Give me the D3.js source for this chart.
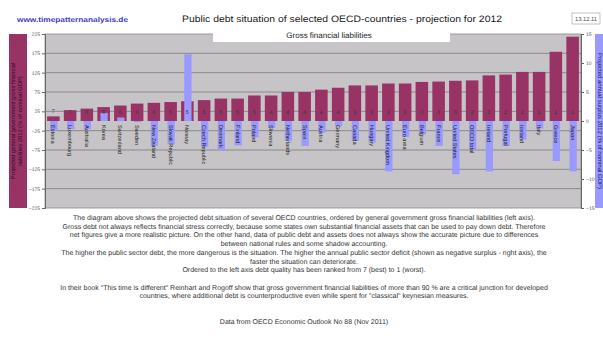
<!DOCTYPE html>
<html><head><meta charset="utf-8">
<script src="https://cdn.jsdelivr.net/npm/d3@7"></script>
<style>
html,body{margin:0;padding:0;background:#fff;}
svg{display:block;}
svg text{font-family:"Liberation Sans",Arial,sans-serif;text-rendering:geometricPrecision;}
</style></head>
<body><svg id="c" width="603" height="344"></svg>
<script>
const countries = ["Estonia","Luxembourg","Australia","Korea","Switzerland","Sweden","New Zealand","Slovak Republic","Norway","Czech Republic","Denmark","Finland","Poland","Slovenia","Netherlands","Spain","Austria","Germany","Canada","Hungary","United Kingdom","Euro area","Belgium","France","United States","OECD total","Ireland","Portugal","Iceland","Italy","Greece","Japan"];
const debt = [12,28,32,36,40,45,47,49,51,54,58,58,66,66,75,75,81,86,92,92,97,97,101,102,104,105,118,120,127,127,179,218];
const surplus = [-1.7,-1.4,-1.4,1.4,0.6,-0.2,-4.3,-4.0,11.5,-4.5,-5.0,-4.2,-2.8,-1.2,-3.4,-4.3,-2.0,-0.9,-3.4,-3.7,-8.7,-2.8,-2.3,-4.3,-9.2,-5.0,-8.7,-4.3,-3.2,-1.3,-6.9,-8.7];
const ranks = [7,7,6,6,6,6,6,5,5,5,5,5,5,4,4,4,4,4,3,3,3,3,3,3,3,2,2,2,2,1,1,1];
const leftTicks = [225,175,125,75,25,-25,-75,-125,-175,-225];
const rightTicks = [15,10,5,0,-5,-10,-15];
const titleText = "Public debt situation of selected OECD-countries - projection for 2012";
const subtitleText = "Gross financial liabilities";
const urlText = "www.timepatternanalysis.de";
const dateText = "13.12.11";
const leftTitle = ["Projected general government gross financial","liabilities 2012 (% of nominal GDP)"];
const rightTitle = "Projected annual surplus 2012 (% of nominal GDP)";
const bodyLines = [
 "The diagram above shows the projected debt situation of several OECD countries, ordered by general government gross financial liabilities (left axis).",
 "Gross debt not always reflects financial stress correctly, because some states own substantial financial assets that can be used to pay down debt. Therefore",
 "net figures give a more realistic picture. On the other hand, data of public debt and assets does not always show the accurate picture due to differences",
 "between national rules and some shadow accounting.",
 "The higher the public sector debt, the more dangerous is the situation. The higher the annual public sector deficit (shown as negative surplus - right axis), the",
 "faster the situation can deteriorate.",
 "Ordered to the left axis debt quality has been ranked from 7 (best) to 1 (worst).",
 "",
 "In their book \"This time is different\" Reinhart and Rogoff show that gross government financial liabilities of more than 90 % are a critical junction for developed",
 "countries, where additional debt is counterproductive even while spent for \"classical\" keynesian measures.",
 "",
 "",
 "Data from OECD Economic Outlook No 88 (Nov 2011)"
];

const FF = "Liberation Sans, Arial, sans-serif";
const svg = d3.select("#c");
const L = 45, R = 581, T = 34, B = 208;
const x = d3.scaleBand().domain(countries).range([L, R]).paddingInner(0.25).paddingOuter(0.125);
const yL = d3.scaleLinear().domain([-225,225]).range([B,T]);
const yR = d3.scaleLinear().domain([-15,15]).range([B,T]);

svg.append("rect").attr("x",L).attr("y",T).attr("width",R-L).attr("height",B-T)
  .attr("fill","#c6c4c6").attr("stroke","#8a8a8a").attr("stroke-width",0.8);
svg.append("g").selectAll("line").data(leftTicks.slice(1,-1)).join("line")
  .attr("x1",L).attr("x2",R).attr("y1",d=>yL(d)).attr("y2",d=>yL(d))
  .attr("stroke","#7c7c7c").attr("stroke-width",0.8);

const gL = svg.append("g").attr("transform",`translate(${L},0)`)
  .call(d3.axisLeft(yL).tickValues(leftTicks).tickSize(3).tickPadding(2));
gL.select(".domain").attr("stroke","#666");
gL.selectAll(".tick line").attr("stroke","#666");
gL.selectAll("text").attr("font-size",5).attr("fill","#555").attr("font-family",FF);
const gR = svg.append("g").attr("transform",`translate(${R},0)`)
  .call(d3.axisRight(yR).tickValues(rightTicks).tickSize(3).tickPadding(2));
gR.select(".domain").attr("stroke","#666");
gR.selectAll(".tick line").attr("stroke","#666");
gR.selectAll("text").attr("font-size",5).attr("fill","#555").attr("font-family",FF);

svg.append("g").selectAll("rect").data(countries).join("rect")
  .attr("x",d=>x(d)).attr("width",x.bandwidth())
  .attr("y",(d,i)=>yL(debt[i])).attr("height",(d,i)=>yL(0)-yL(debt[i]))
  .attr("fill","#993366");
const bw = x.bandwidth()*0.58;
svg.append("g").selectAll("rect").data(countries).join("rect")
  .attr("x",d=>x(d)+x.bandwidth()/2-bw/2+0.5).attr("width",bw)
  .attr("y",(d,i)=>yR(Math.max(0,surplus[i])))
  .attr("height",(d,i)=>Math.abs(yR(surplus[i])-yR(0)))
  .attr("fill","#9999ff");

svg.append("g").selectAll("text").data(countries).join("text")
  .attr("x",d=>x(d)+x.bandwidth()/2).attr("y",(d,i)=> debt[i] < 20 ? yL(debt[i])-3 : yL(0)-7)
  .attr("text-anchor","middle").attr("font-size",5.5).attr("fill","#333").attr("font-family",FF)
  .text((d,i)=>ranks[i]);
svg.append("g").selectAll("text").data(countries).join("text")
  .attr("transform",d=>`translate(${x(d)+x.bandwidth()/2-2},${yL(0)+4}) rotate(90)`)
  .attr("font-size",5.6).attr("fill","#222").attr("font-family",FF)
  .text(d=>d);

svg.append("rect").attr("x",213).attr("y",28).attr("width",237).attr("height",14).attr("fill","#fff");
svg.append("text").attr("x",329).attr("y",38).attr("text-anchor","middle").attr("font-family",FF)
  .attr("font-size",8).attr("fill","#222").text(subtitleText);
svg.append("text").attr("x",342).attr("y",22).attr("text-anchor","middle").attr("font-family",FF)
  .attr("font-size",9.3).attr("fill","#1a1a1a")
  .attr("textLength",320).attr("lengthAdjust","spacingAndGlyphs").text(titleText);
svg.append("text").attr("x",17).attr("y",21.5).attr("font-family",FF)
  .attr("font-size",7.2).attr("font-weight","bold").attr("fill","#3a3acc")
  .attr("textLength",111).attr("lengthAdjust","spacingAndGlyphs").text(urlText);
svg.append("rect").attr("x",572).attr("y",13).attr("width",28).attr("height",11)
  .attr("fill","#fff").attr("stroke","#aaa").attr("stroke-width",0.7);
svg.append("text").attr("x",586).attr("y",21).attr("text-anchor","middle").attr("font-family",FF)
  .attr("font-size",5.8).attr("fill","#555").text(dateText);

svg.append("rect").attr("x",9).attr("y",34).attr("width",18).attr("height",174).attr("fill","#993366");
leftTitle.forEach((t,i)=>{
  svg.append("text").attr("transform",`translate(${15+i*7},121) rotate(-90)`).attr("font-family",FF)
    .attr("text-anchor","middle").attr("font-size",5.8).attr("fill","#2a1020").text(t);
});
svg.append("rect").attr("x",595).attr("y",34).attr("width",10).attr("height",174).attr("fill","#9999ff");
svg.append("text").attr("transform",`translate(597.5,121) rotate(90)`).attr("font-family",FF)
  .attr("text-anchor","middle").attr("font-size",6).attr("fill","#1a1a66").text(rightTitle);

svg.append("g").selectAll("text").data(bodyLines).join("text")
  .attr("x",304).attr("y",(d,i)=>220+i*8.7).attr("text-anchor","middle").attr("font-family",FF)
  .attr("font-size",7).attr("fill","#333").text(d=>d);
</script></body></html>
